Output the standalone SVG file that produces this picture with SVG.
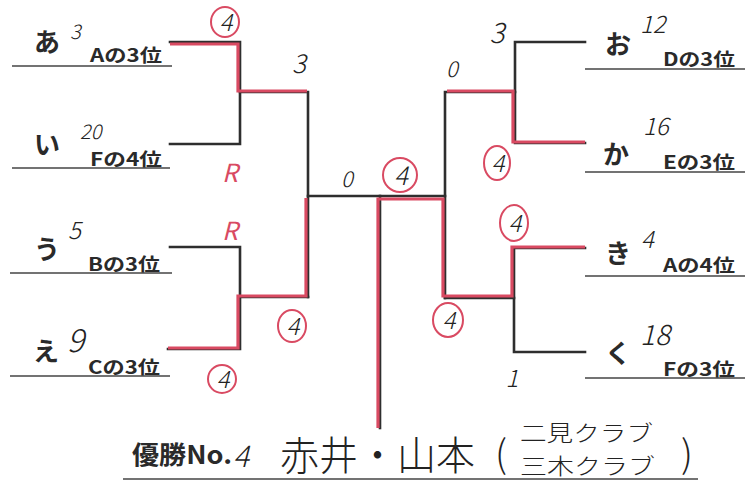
<svg xmlns="http://www.w3.org/2000/svg" width="745" height="490" viewBox="0 0 745 490">
<style>
.bk{stroke:#2e2e2e;stroke-width:2.6;fill:none;stroke-linecap:square}
.rd{stroke:#d94a62;stroke-width:3.2;fill:none;stroke-linecap:butt}
.ul{stroke:#444;stroke-width:1.6}
.kana{font-family:"Noto Sans CJK JP","Noto Sans",sans-serif;font-weight:700;font-size:26px;fill:#2a2a2a}
.lab{font-family:"Noto Sans CJK JP","Noto Sans",sans-serif;font-weight:700;font-size:18px;fill:#2a2a2a}
.hw{font-family:"Noto Sans CJK JP","DejaVu Sans",sans-serif;font-weight:300;font-style:italic;fill:#222}
.hu{font-family:"Noto Sans CJK JP","DejaVu Sans",sans-serif;font-weight:300;fill:#222}
.hr{font-family:"Noto Sans CJK JP","DejaVu Sans",sans-serif;font-weight:400;font-style:italic;fill:#d94a62}
.ring{stroke:#d94a62;stroke-width:2;fill:none}
</style>
<rect width="745" height="490" fill="#fff"/>

<g id="connectors">
  <path class="bk" d="M170,42 H240 V144 H170"/>
  <path class="bk" d="M240,92 H308 V297"/>
  <path class="bk" d="M170,247 H240 V349 H168"/>
  <path class="bk" d="M240,297 H308"/>
  <path class="bk" d="M308,196 H445"/>
  <path class="bk" d="M380,196 V428"/>
  <path class="bk" d="M585,42 H515 V143 H585"/>
  <path class="bk" d="M515,92 H445 V298"/>
  <path class="bk" d="M585,248 H514 V352 H585"/>
  <path class="bk" d="M514,298 H445"/>
  <path class="rd" d="M170,44 H238 V91 H307"/>
  <path class="rd" d="M168,348 H238 V296 H306 V198"/>
  <path class="rd" d="M378,428 V199 H443 V296 H512 V247 H585"/>
  <path class="rd" d="M447,91 H513 V142 H585"/>
</g>

<g id="node-a">
  <text class="kana" x="34" y="52">あ</text>
  <text class="hw" x="70" y="39" font-size="20">3</text>
  <text class="lab" x="90" y="62" textLength="72" lengthAdjust="spacingAndGlyphs">Aの3位</text>
  <line class="ul" x1="12" y1="66" x2="172" y2="66"/>
</g>
<g id="node-i">
  <text class="kana" x="34" y="154">い</text>
  <text class="hw" x="80" y="139" font-size="20">20</text>
  <text class="lab" x="90" y="166" textLength="72" lengthAdjust="spacingAndGlyphs">Fの4位</text>
  <line class="ul" x1="12" y1="168" x2="170" y2="168"/>
</g>
<g id="node-u">
  <text class="kana" x="34" y="259">う</text>
  <text class="hw" x="68" y="239" font-size="24">5</text>
  <text class="lab" x="88" y="271" textLength="72" lengthAdjust="spacingAndGlyphs">Bの3位</text>
  <line class="ul" x1="10" y1="273" x2="172" y2="273"/>
</g>
<g id="node-e">
  <text class="kana" x="33" y="361">え</text>
  <text class="hw" x="67" y="352" font-size="32">9</text>
  <text class="lab" x="88" y="374" textLength="72" lengthAdjust="spacingAndGlyphs">Cの3位</text>
  <line class="ul" x1="10" y1="376" x2="170" y2="376"/>
</g>

<g id="node-o">
  <text class="kana" x="605" y="54">お</text>
  <text class="hw" x="640" y="33" font-size="24">12</text>
  <text class="lab" x="663" y="66" textLength="72" lengthAdjust="spacingAndGlyphs">Dの3位</text>
  <line class="ul" x1="585" y1="69" x2="745" y2="69"/>
</g>
<g id="node-ka">
  <text class="kana" x="603" y="164">か</text>
  <text class="hw" x="643" y="135" font-size="24">16</text>
  <text class="lab" x="663" y="169" textLength="72" lengthAdjust="spacingAndGlyphs">Eの3位</text>
  <line class="ul" x1="585" y1="172" x2="745" y2="172"/>
</g>
<g id="node-ki">
  <text class="kana" x="605" y="263">き</text>
  <text class="hw" x="641" y="248" font-size="24">4</text>
  <text class="lab" x="663" y="272" textLength="72" lengthAdjust="spacingAndGlyphs">Aの4位</text>
  <line class="ul" x1="585" y1="276" x2="745" y2="276"/>
</g>
<g id="node-ku">
  <text class="kana" x="605" y="363">く</text>
  <text class="hw" x="640" y="345" font-size="28">18</text>
  <text class="lab" x="663" y="376" textLength="72" lengthAdjust="spacingAndGlyphs">Fの3位</text>
  <line class="ul" x1="585" y1="378" x2="745" y2="378"/>
</g>

<g id="scores">
  <ellipse class="ring" cx="225" cy="22" rx="14" ry="15"/>
  <text class="hw" x="226" y="31" font-size="24" text-anchor="middle">4</text>
  <text class="hw" x="299" y="73" font-size="26" text-anchor="middle">3</text>
  <text class="hr" x="230" y="182" font-size="25" text-anchor="middle">R</text>
  <text class="hr" x="230" y="240" font-size="25" text-anchor="middle">R</text>
  <ellipse class="ring" cx="292" cy="326" rx="14" ry="16"/>
  <text class="hw" x="293" y="335" font-size="24" text-anchor="middle">4</text>
  <ellipse class="ring" cx="222" cy="379" rx="14" ry="14"/>
  <text class="hw" x="223" y="388" font-size="24" text-anchor="middle">4</text>
  <text class="hw" x="347" y="187" font-size="22" text-anchor="middle">0</text>
  <ellipse class="ring" cx="400" cy="175" rx="17" ry="17"/>
  <text class="hw" x="401" y="185" font-size="26" text-anchor="middle">4</text>
  <text class="hw" x="497" y="43" font-size="28" text-anchor="middle">3</text>
  <text class="hw" x="452" y="77" font-size="22" text-anchor="middle">0</text>
  <ellipse class="ring" cx="497" cy="163" rx="13" ry="17"/>
  <text class="hw" x="498" y="172" font-size="24" text-anchor="middle">4</text>
  <ellipse class="ring" cx="514" cy="223" rx="14" ry="18"/>
  <text class="hw" x="515" y="232" font-size="24" text-anchor="middle">4</text>
  <ellipse class="ring" cx="448" cy="320" rx="15" ry="17"/>
  <text class="hw" x="449" y="329" font-size="24" text-anchor="middle">4</text>
  <text class="hw" x="512" y="387" font-size="24" text-anchor="middle">1</text>
</g>

<g id="winner">
  <text class="lab" x="132" y="464" textLength="100" lengthAdjust="spacingAndGlyphs" style="font-size:25px">優勝No.</text>
  <text class="hw" x="233" y="467" font-size="30">4</text>
  <text class="hu" x="280" y="470" font-size="40" textLength="195" lengthAdjust="spacingAndGlyphs">赤井・山本</text>
  <text class="hu" x="495" y="468" font-size="38">(</text>
  <text class="hu" x="520" y="441" font-size="22" textLength="133" lengthAdjust="spacingAndGlyphs">二見クラブ</text>
  <text class="hu" x="520" y="474" font-size="22" textLength="135" lengthAdjust="spacingAndGlyphs">三木クラブ</text>
  <text class="hu" x="681" y="468" font-size="38">)</text>
  <line class="ul" x1="123" y1="479" x2="698" y2="479"/>
</g>
</svg>
